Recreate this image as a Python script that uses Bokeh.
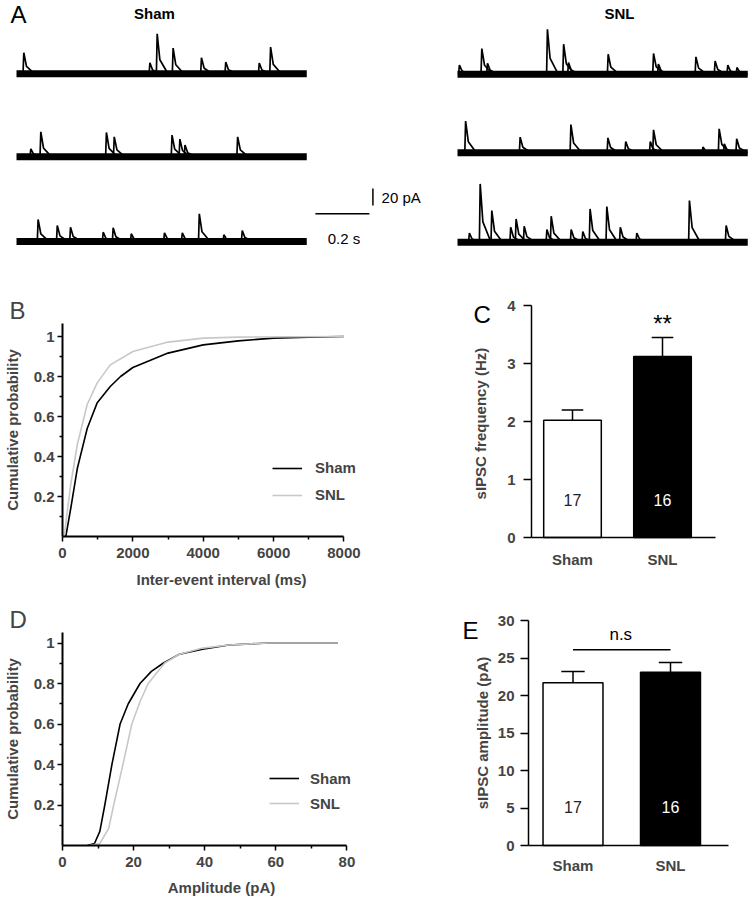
from bokeh.plotting import figure
from bokeh.models import (Range1d, FixedTicker, NumeralTickFormatter, Legend, LegendItem,
                          LinearAxis, Title)
from bokeh.layouts import row, column
from bokeh.embed import file_html
from bokeh.resources import INLINE
from bokeh.core.properties import value

FONT = "Liberation Sans"

# ---------------- data ----------------
groups = ["Sham", "SNL"]
n_cells = [17, 16]

# Panel A: spontaneous IPSC events (time from trace start in ms, amplitude in pA)
trace_duration_ms = 1075
sham_event_t = [
    [27, 494, 521, 580, 685, 775, 899, 941],
    [53, 90, 333, 362, 576, 605, 624, 819],
    [80, 151, 200, 321, 358, 425, 548, 614, 677, 768, 836],
]
sham_event_a = [
    [24.7, 12.9, 47.0, 30.2, 18.8, 13.8, 12.6, 31.4],
    [9.4, 29.4, 28.6, 23.5, 25.5, 20.8, 13.8, 23.5],
    [25.9, 18.8, 16.8, 10.9, 16.1, 9.1, 10.2, 10.2, 32.6, 7.9, 12.9],
]
snl_event_t = [
    [7, 90, 111, 333, 393, 411, 558, 726, 744, 883, 954, 1001, 1035],
    [30, 232, 420, 557, 623, 714, 726, 909, 969, 988, 1034],
    [44, 84, 127, 197, 217, 247, 331, 347, 421, 464, 491, 553, 603, 664, 859, 995],
]
snl_event_a = [
    [10.6, 30.2, 12.9, 52.9, 35.3, 13.8, 23.5, 24.4, 11.8, 20.4, 15.6, 10.6, 7.9],
    [37.3, 18.5, 33.3, 17.6, 13.3, 13.3, 27.1, 6.7, 28.2, 10.6, 16.5],
    [10.9, 68.6, 37.3, 17.6, 27.4, 18.8, 14.9, 30.6, 14.9, 12.6, 39.2, 42.0, 17.6, 10.9, 49.1, 19.6],
]
scalebar_ms = 200
scalebar_pa = 20

# Panel B: cumulative probability of inter-event interval
b_sham_ms = [94, 234, 421, 702, 982, 1357, 1650, 2000, 3000, 4000, 5000, 6000, 7000, 8000]
b_sham_p = [0, 0.14, 0.34, 0.54, 0.667, 0.75, 0.80, 0.845, 0.917, 0.958, 0.978, 0.992, 0.997, 1.0]
b_snl_ms = [47, 140, 234, 421, 702, 982, 1357, 2000, 3000, 4000, 5000, 8000]
b_snl_p = [0, 0.13, 0.26, 0.46, 0.66, 0.767, 0.858, 0.925, 0.972, 0.992, 0.997, 1.0]

# Panel C: sIPSC frequency (Hz)
freq_mean = [2.02, 3.12]
freq_sem = [0.18, 0.33]

# Panel D: cumulative probability of amplitude
d_sham_pa = [7.0, 9.0, 10.5, 11.9, 13.9, 16.2, 18.5, 21.8, 25.0, 28.3, 32.9, 39.4, 46.8, 57.9, 77.4]
d_sham_p = [0, 0.01, 0.07, 0.2, 0.4, 0.6, 0.7, 0.8, 0.86, 0.9, 0.945, 0.97, 0.99, 1.0, 1.0]
d_snl_pa = [7.5, 10.5, 13.0, 14.4, 17.0, 19.5, 21.8, 24.1, 28.7, 32.9, 39.4, 46.8, 58.0, 77.4]
d_snl_p = [0, 0.01, 0.085, 0.2, 0.4, 0.6, 0.71, 0.8, 0.9, 0.945, 0.975, 0.99, 1.0, 1.0]

# Panel E: sIPSC amplitude (pA)
amp_mean = [21.7, 23.1]
amp_sem = [1.5, 1.3]

# ---------------- helpers ----------------
PX_PER_MS = 0.27
PX_PER_PA = 0.85
GRAY = "#c8c8c8"


def blank_fig(w, h, xr, yr):
    p = figure(width=w, height=h, x_range=Range1d(*xr), y_range=Range1d(*yr),
               output_backend="svg", toolbar_location=None,
               x_axis_location=None, y_axis_location=None, min_border=0)
    p.frame_align = False
    p.outline_line_color = None
    p.grid.visible = False
    return p


def draw_traces(p, times, amps, offsets):
    for t_list, a_list, b in zip(times, amps, offsets):
        p.line([0, trace_duration_ms], [b, b], line_width=7, color="black")
        xs = [[t - 3, t, t + 10, t + 40] for t in t_list]
        ys = [[b, b + a, b + 0.35 * a, b] for a in a_list]
        p.multi_line(xs, ys, line_width=1.7, color="black")


def style_axis(ax, width=2):
    ax.axis_line_width = width
    ax.major_tick_line_width = 1.5
    ax.minor_tick_line_width = 1.5
    ax.major_tick_in = 0
    ax.minor_tick_in = 0
    ax.major_label_text_font = FONT
    ax.major_label_text_font_style = "bold"
    ax.major_label_text_font_size = "15px"
    ax.axis_label_text_font = FONT
    ax.axis_label_text_font_style = "bold"
    ax.axis_label_text_font_size = "15px"


def base_fig(w, h, xr, yr, left, right, top, bottom):
    p = figure(width=w, height=h, x_range=Range1d(*xr), y_range=Range1d(*yr),
               output_backend="svg", toolbar_location=None,
               min_border_left=left, min_border_right=right,
               min_border_top=top, min_border_bottom=bottom)
    p.frame_align = False
    p.outline_line_color = None
    p.grid.visible = False
    return p


def letter_title(p, s, offset):
    p.add_layout(Title(text=s, align="left", offset=offset, standoff=0, vertical_align="bottom",
                       text_font=FONT, text_font_size="24px", text_font_style="normal"), "above")


def bar_panel(p, means, sems, bar_w, n_y, cap_hw=0.12):
    xs_idx = list(range(len(groups)))
    p.vbar(x=xs_idx, top=means, width=bar_w, fill_color=["white", "black"],
           line_color="black", line_width=1.5)
    tops = [m + s for m, s in zip(means, sems)]
    p.segment(x0=xs_idx, y0=means, x1=xs_idx, y1=tops, line_width=1.5, color="black")
    p.segment(x0=[i - cap_hw for i in xs_idx], y0=tops, x1=[i + cap_hw for i in xs_idx], y1=tops,
              line_width=1.5, color="black")
    p.text(x=xs_idx, y=[n_y] * len(xs_idx), text=[str(n) for n in n_cells],
           text_color=["#222222", "white"], text_font=value(FONT), text_font_size="16px",
           text_align="center", text_baseline="middle")
    return xs_idx


# ---------------- Panel A ----------------
A_H = 265
sham_offsets = [-86.2, -183.9, -283.5]
snl_offsets = [-86.7, -179.2, -284.4]

pa1 = blank_fig(440, A_H, (-59.3, -59.3 + 440 / PX_PER_MS), (-A_H / PX_PER_PA, 0))
draw_traces(pa1, sham_event_t, sham_event_a, sham_offsets)
pa1.text(x=[-22.2], y=[-16.5], text=["A"], text_font=value(FONT), text_font_size="24px",
         text_baseline="middle", text_align="left")
pa1.text(x=[511], y=[-15.3], text=[groups[0]], text_font=value(FONT), text_font_size="15px",
         text_font_style="bold", text_align="center", text_baseline="middle")
sb_x0, sb_y0 = 1107, -251
pa1.segment(x0=[sb_x0], y0=[sb_y0], x1=[sb_x0 + scalebar_ms], y1=[sb_y0], line_width=1.5, color="black")
vb_x, vb_y0 = 1320, -241.2
pa1.segment(x0=[vb_x], y0=[vb_y0], x1=[vb_x], y1=[vb_y0 + scalebar_pa], line_width=1.5, color="black")
pa1.text(x=[vb_x + 32], y=[vb_y0 + scalebar_pa / 2], text=[f"{scalebar_pa} pA"],
         text_font=value(FONT), text_font_size="15px", text_baseline="middle", text_align="left")
pa1.text(x=[sb_x0 + scalebar_ms / 2 + 6], y=[-280], text=[f"{scalebar_ms / 1000:g} s"],
         text_font=value(FONT), text_font_size="15px", text_baseline="middle", text_align="center")

pa2 = blank_fig(312, A_H, (-63, -63 + 312 / PX_PER_MS), (-A_H / PX_PER_PA, 0))
draw_traces(pa2, snl_event_t, snl_event_a, snl_offsets)
pa2.text(x=[600], y=[-15.3], text=[groups[1]], text_font=value(FONT), text_font_size="15px",
         text_font_style="bold", text_align="center", text_baseline="middle")

# ---------------- Panel B ----------------
pb = base_fig(400, 327, (0, 8000 * 322 / 285), (0, 1.065), 58, 20, 58, 56)
rb1 = pb.line(b_sham_ms, b_sham_p, line_width=1.6, color="black")
rb2 = pb.line(b_snl_ms, b_snl_p, line_width=1.6, color=GRAY)
pb.xaxis.ticker = FixedTicker(ticks=[0, 2000, 4000, 6000, 8000], minor_ticks=[1000, 3000, 5000, 7000])
pb.xaxis.bounds = (0, 8000)
pb.yaxis.ticker = FixedTicker(ticks=[0.2, 0.4, 0.6, 0.8, 1], minor_ticks=[0.1, 0.3, 0.5, 0.7, 0.9])
pb.yaxis.formatter = NumeralTickFormatter(format="0.[0]")
pb.xaxis.axis_label = "Inter-event interval (ms)"
pb.yaxis.axis_label = "Cumulative probability"
for ax in pb.axis:
    style_axis(ax)
    ax.major_tick_out = 5
    ax.minor_tick_out = 3
pb.xaxis.major_label_standoff = 6
pb.xaxis.axis_label_standoff = 10
pb.yaxis.major_label_standoff = 3
pb.yaxis.axis_label_standoff = 10
legb = Legend(items=[LegendItem(label=groups[0], renderers=[rb1]),
                     LegendItem(label=groups[1], renderers=[rb2])],
              location=(210, 31.5), glyph_width=30, glyph_height=20, label_height=20,
              spacing=7, padding=0, margin=0, border_line_color=None, background_fill_alpha=0,
              label_text_font=FONT, label_text_font_style="bold", label_text_font_size="15px",
              label_standoff=13)
pb.add_layout(legb)
letter_title(pb, "B", -53)

# ---------------- Panel C (whole figure is the frame; axes fixed at data locations) ----------------
C_X0, C_PXU = 572, 90        # screen x of first bar, px per category step
C_Y0, C_PYU = 537, 58        # screen y of zero, px per Hz
c_axis_x = (531 - C_X0) / C_PXU
c_axis_end = (715 - C_X0) / C_PXU
pc = blank_fig(352, 327, ((400 - C_X0) / C_PXU, (752 - C_X0) / C_PXU),
               (-(592 - C_Y0) / C_PYU, (C_Y0 - 265) / C_PYU))
xs_idx = bar_panel(pc, freq_mean, freq_sem, 0.64, 0.655)
pc.text(x=[1], y=[3.69], text=["**"], text_font=value(FONT), text_font_size="24px",
        text_align="center", text_baseline="middle")
pc.text(x=[(473 - C_X0) / C_PXU], y=[3.853], text=["C"], text_font=value(FONT), text_font_size="24px",
        text_align="left", text_baseline="middle")
cx = LinearAxis(fixed_location=0, ticker=FixedTicker(ticks=xs_idx), bounds=(c_axis_x, c_axis_end),
                major_label_overrides={i: g for i, g in enumerate(groups)})
cy = LinearAxis(fixed_location=c_axis_x, ticker=FixedTicker(ticks=[0, 1, 2, 3, 4]), bounds=(0, 4),
                axis_label="sIPSC  frequency (Hz)")
pc.add_layout(cx, "below")
pc.add_layout(cy, "left")
for ax in (cx, cy):
    style_axis(ax, 1.5)
cx.major_tick_out = 0
cx.major_label_standoff = 13
cy.major_tick_out = 8
cy.major_label_standoff = 8
cy.axis_label_standoff = 15

# ---------------- Panel D ----------------
pd_ = base_fig(400, 308, (0, 80 * 322 / 288), (0, 1.052), 58, 20, 40, 55)
rd1 = pd_.line(d_sham_pa, d_sham_p, line_width=1.6, color="black")
rd2 = pd_.line(d_snl_pa, d_snl_p, line_width=1.6, color=GRAY)
pd_.xaxis.ticker = FixedTicker(ticks=[0, 20, 40, 60, 80], minor_ticks=[10, 30, 50, 70])
pd_.xaxis.bounds = (0, 80)
pd_.yaxis.ticker = FixedTicker(ticks=[0.2, 0.4, 0.6, 0.8, 1], minor_ticks=[0.1, 0.3, 0.5, 0.7, 0.9])
pd_.yaxis.formatter = NumeralTickFormatter(format="0.[0]")
pd_.xaxis.axis_label = "Amplitude (pA)"
pd_.yaxis.axis_label = "Cumulative probability"
for ax in pd_.axis:
    style_axis(ax)
    ax.major_tick_out = 5
    ax.minor_tick_out = 3
pd_.xaxis.major_label_standoff = 6
pd_.xaxis.axis_label_standoff = 9
pd_.yaxis.major_label_standoff = 3
pd_.yaxis.axis_label_standoff = 10
legd = Legend(items=[LegendItem(label=groups[0], renderers=[rd1]),
                     LegendItem(label=groups[1], renderers=[rd2])],
              location=(207, 32), glyph_width=30, glyph_height=20, label_height=20,
              spacing=5, padding=0, margin=0, border_line_color=None, background_fill_alpha=0,
              label_text_font=FONT, label_text_font_style="bold", label_text_font_size="15px",
              label_standoff=11)
pd_.add_layout(legd)
letter_title(pd_, "D", -53)

# ---------------- Panel E ----------------
E_X0, E_PXU = 572.5, 97.5
E_Y0, E_PYU = 845, 7.5
e_axis_x = (528 - E_X0) / E_PXU
e_axis_end = (728 - E_X0) / E_PXU
pe = blank_fig(352, 308, ((400 - E_X0) / E_PXU, (752 - E_X0) / E_PXU),
               (-(900 - E_Y0) / E_PYU, (E_Y0 - 592) / E_PYU))
bar_panel(pe, amp_mean, amp_sem, 0.615, 5.07)
pe.segment(x0=[xs_idx[0]], y0=[26.1], x1=[xs_idx[1]], y1=[26.1], line_width=1.5, color="black")
pe.text(x=[0.49], y=[28.2], text=["n.s"], text_font=value(FONT), text_font_size="17px",
        text_align="center", text_baseline="middle")
pe.text(x=[(462 - E_X0) / E_PXU], y=[28.67], text=["E"], text_font=value(FONT), text_font_size="24px",
        text_align="left", text_baseline="middle")
ex = LinearAxis(fixed_location=0, ticker=FixedTicker(ticks=xs_idx), bounds=(e_axis_x, e_axis_end),
                major_label_overrides={i: g for i, g in enumerate(groups)})
ey = LinearAxis(fixed_location=e_axis_x, ticker=FixedTicker(ticks=[0, 5, 10, 15, 20, 25, 30]),
                bounds=(0, 30), axis_label="sIPSC amplitude (pA)")
pe.add_layout(ex, "below")
pe.add_layout(ey, "left")
for ax in (ex, ey):
    style_axis(ax, 1.5)
ex.major_tick_out = 0
ex.major_label_standoff = 11
ey.major_tick_out = 8
ey.major_label_standoff = 6
ey.axis_label_standoff = 4

layout = column(row(pa1, pa2), row(pb, pc), row(pd_, pe))
open("out.html", "w").write(file_html(layout, INLINE))
